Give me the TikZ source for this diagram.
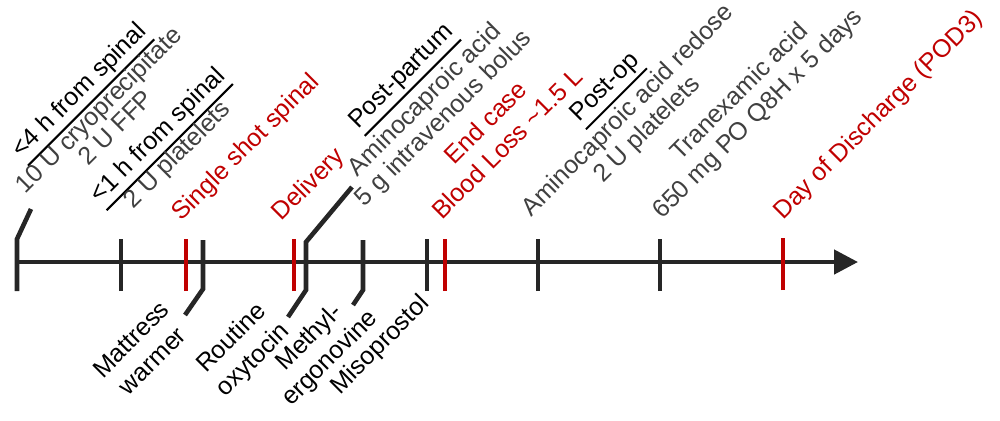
\documentclass[tikz,border=0pt]{standalone}
\usepackage{fontspec}
\setmainfont{Liberation Sans}
\usetikzlibrary{arrows.meta}

\definecolor{evred}{RGB}{192,0,0}
\definecolor{druggray}{RGB}{64,64,64}
\definecolor{axisgray}{RGB}{38,38,38}

\newcommand{\hdrule}[1]{\setbox0\hbox{#1}\rlap{\smash{\rule[-5.25pt]{\wd0}{1pt}}}\box0}

\begin{document}
\begin{tikzpicture}[x=0.5pt, y=-0.5pt,
    lbl/.style={rotate=45, anchor=base, inner sep=0pt, font=\fontsize{12.5}{15}\selectfont},
    hd/.style={lbl, text=black},
    drug/.style={lbl, text=druggray},
    ev/.style={lbl, text=evred},
    tick/.style={line width=2.3pt, draw=axisgray},
    evtick/.style={line width=2.3pt, draw=evred}]

    \useasboundingbox (0,0) rectangle (1000,420);

    %%%%% AXIS %%%%%
    \coordinate (tk1) at (17,262);
    \coordinate (tk2) at (121,262);
    \coordinate (ev1) at (186,262);
    \coordinate (tk3) at (203,262);
    \coordinate (ev2) at (294,262);
    \coordinate (tk4) at (306,262);
    \coordinate (tk5) at (363,262);
    \coordinate (tk6) at (427,262);
    \coordinate (ev3) at (445,262);
    \coordinate (tk7) at (538,262);
    \coordinate (tk8) at (660,262);
    \coordinate (ev4) at (783,262);
    \coordinate (axend) at (858,262);

    \draw[tick, -{Triangle[length=12pt,width=12pt]}] (tk1) -- (axend);

    \draw[tick] (tk1) ++(0,29) -- ++(0,-52) -- ++(14,-30);
    \draw[tick] (tk2) ++(0,29) -- ++(0,-52);
    \draw[evtick] (ev1) ++(0,29) -- ++(0,-52);
    \draw[tick] (tk3) ++(0,-22) -- ++(0,49) -- ++(-18,26);
    \draw[evtick] (ev2) ++(0,29) -- ++(0,-52);
    \draw[tick] (tk4) ++(46,-75) -- ++(-46,55) -- ++(0,48) -- ++(-18,27);
    \draw[tick] (tk5) ++(0,-22) -- ++(0,50) -- ++(-10,15);
    \draw[tick] (tk6) ++(0,29) -- ++(0,-52);
    \draw[evtick] (ev3) ++(0,29) -- ++(0,-52);
    \draw[tick] (tk7) ++(0,29) -- ++(0,-52);
    \draw[tick] (tk8) ++(0,29) -- ++(0,-52);
    \draw[evtick] (ev4) ++(0,28) -- ++(0,-52);

    %%%%% ABOVE %%%%%
    \node[hd] (h4) at (84.4,95.8) {\hdrule{<4 h from spinal}};
    \node[drug] (cryo) at (104.4,115.7) {10 U cryoprecipitate};
    \node[drug] (ffp) at (121.8,133.1) {2 U FFP};

    \node[hd] (h1) at (163.0,140.4) {\hdrule{<1 h from spinal}};
    \node[drug] (plt1) at (182.5,159.9) {2 U platelets};

    \node[ev] (spinal) at (251.0,152.5) {Single shot spinal};
    \node[ev] (deliv) at (313.7,189.8) {Delivery};

    \node[hd] (hpp) at (406.2,81.0) {\hdrule{Post-partum}};
    \node[drug] (aca1) at (430.2,104.9) {Aminocaproic acid};
    \node[drug] (bolus) at (448.7,123.4) {5 g intravenous bolus};

    \node[ev] (endcase) at (491.7,128.3) {End case};
    \node[ev] (ebl) at (513.1,149.6) {Blood Loss \textasciitilde1.5 L};

    \node[hd] (hpo) at (609.7,92.1) {\hdrule{Post-op}};
    \node[drug] (aca2) at (633.0,115.4) {Aminocaproic acid redose};
    \node[drug] (plt2) at (652.2,134.6) {2 U platelets};

    \node[drug] (txa) at (744.7,97.0) {Tranexamic acid};
    \node[drug] (txadose) at (763.0,119.0) {650 mg PO Q8H x 5 days};

    \node[ev] (dc) at (883.6,119.8) {Day of Discharge (POD3)};

    %%%%% BELOW %%%%%
    \node[hd] (matt) at (136.9,345.1) {Mattress};
    \node[hd] (warm) at (158.4,366.6) {warmer};
    \node[hd] (rout) at (236.5,343.5) {Routine};
    \node[hd] (oxy) at (258.2,365.2) {oxytocin};
    \node[hd] (meth) at (314.3,342.5) {Methyl-};
    \node[hd] (ergo) at (335.1,363.2) {ergonovine};
    \node[hd] (miso) at (385.2,349.9) {Misoprostol};
\end{tikzpicture}
\end{document}
